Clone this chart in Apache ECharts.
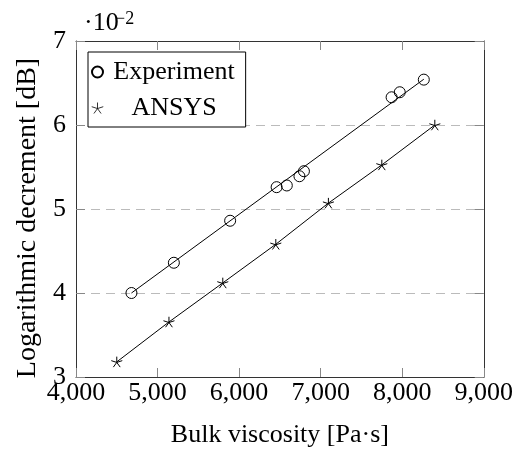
<!DOCTYPE html>
<html>
<head>
<meta charset="utf-8">
<script src="https://cdn.jsdelivr.net/npm/echarts@6/dist/echarts.min.js"></script>
<style>
  html, body { margin: 0; padding: 0; background: #fff; }
  #chart { width: 516px; height: 455px; }
</style>
</head>
<body>
<div id="chart"></div>
<script>
// measured points (values x 10^-2)
var expX = [4680, 5200, 5890, 6460, 6585, 6740, 6795, 7870, 7970, 8265];
var expY = [4.00, 4.36, 4.86, 5.26, 5.28, 5.39, 5.45, 6.33, 6.39, 6.54];
// linear fit through experiment
var fitX = [4680, 8265];
var fitY = [4.00, 6.545];
// simulation
var ansX = [4500, 5140, 5800, 6450, 7095, 7750, 8400];
var ansY = [3.18, 3.655, 4.12, 4.58, 5.07, 5.525, 6.00];

var xTicks = [4000, 5000, 6000, 7000, 8000, 9000];
var yTicks = [3, 4, 5, 6, 7];

function pairs(xs, ys) {
  return xs.map(function (x, i) { return [x, ys[i]]; });
}

var FONT = 'Liberation Serif';
var starPath = 'path://M100 100L100 0M100 100L195 69M100 100L159 181M100 100L41 181M100 100L5 69';

var chart = echarts.init(document.getElementById('chart'));

var baseX = {
  type: 'value',
  min: xTicks[0],
  max: xTicks[xTicks.length - 1],
  interval: 1000,
  axisLine: { show: true, onZero: false, lineStyle: { color: '#333', width: 1 } },
  axisTick: { show: true, inside: true, length: 9, lineStyle: { color: '#888' } },
  splitLine: { show: false }
};
var baseY = {
  type: 'value',
  min: yTicks[0],
  max: yTicks[yTicks.length - 1],
  interval: 1,
  axisLine: { show: true, onZero: false, lineStyle: { color: '#333', width: 1 } },
  axisTick: { show: true, inside: true, length: 9, lineStyle: { color: '#888' } },
  splitLine: { show: false }
};

var option = {
  animation: false,
  backgroundColor: '#fff',
  textStyle: { fontFamily: FONT },
  grid: { left: 76, right: 30, top: 41, bottom: 78 },
  xAxis: [
    Object.assign({}, baseX, {
      position: 'bottom',
      name: 'Bulk viscosity [Pa·s]',
      nameLocation: 'middle',
      nameGap: 45,
      nameTextStyle: { fontFamily: FONT, fontSize: 26, color: '#000' },
      axisLabel: {
        margin: 3, fontFamily: FONT, fontSize: 26, color: '#000',
        formatter: function (v) { return v.toLocaleString('en-US'); }
      }
    }),
    Object.assign({}, baseX, { position: 'top', axisLabel: { show: false } })
  ],
  yAxis: [
    Object.assign({}, baseY, {
      position: 'left',
      name: 'Logarithmic decrement [dB]',
      nameLocation: 'middle',
      nameRotate: 90,
      nameGap: 16,
      nameTextStyle: { fontFamily: FONT, fontSize: 28, color: '#000', padding: [0, 18, 0, 0] },
      axisLabel: { margin: 10, fontFamily: FONT, fontSize: 26, color: '#000' },
      splitLine: { show: true, lineStyle: { color: '#bbb', type: [9, 6], width: 1 } }
    }),
    Object.assign({}, baseY, { position: 'right', axisLabel: { show: false } })
  ],
  legend: {
    orient: 'vertical',
    left: 88,
    top: 52,
    padding: [7, 11, 6, 3],
    itemGap: 10,
    itemWidth: 13,
    itemHeight: 11,
    backgroundColor: '#fff',
    borderColor: '#000',
    borderWidth: 1,
    borderRadius: 0,
    data: [
      { name: 'Experiment' },
      { name: 'ANSYS', itemStyle: { color: 'rgba(0,0,0,0)', borderColor: '#000', borderWidth: 0.8 } }
    ],
    formatter: function (name) { return '{t|' + name + '}'; },
    textStyle: {
      fontFamily: FONT, fontSize: 26, color: '#000',
      rich: { t: { fontFamily: FONT, fontSize: 26, width: 130, align: 'center' } }
    }
  },
  graphic: [
    { type: 'text', left: 84, top: 10, style: { text: '·10', font: '26px "Liberation Serif"', fill: '#000' } },
    { type: 'text', left: 115, top: 10, style: { text: '−2', font: '18px "Liberation Serif"', fill: '#000' } }
  ],
  series: [
    {
      name: 'fit',
      type: 'line',
      data: pairs(fitX, fitY),
      showSymbol: false,
      symbol: 'none',
      lineStyle: { color: '#000', width: 1 },
      z: 2
    },
    {
      name: 'Experiment',
      type: 'scatter',
      data: pairs(expX, expY),
      symbol: 'circle',
      symbolSize: 11,
      itemStyle: { color: 'rgba(0,0,0,0)', borderColor: '#000', borderWidth: 1, opacity: 1 },
      z: 3
    },
    {
      name: 'ansysLine',
      type: 'line',
      data: pairs(ansX, ansY),
      symbol: 'none',
      lineStyle: { color: '#000', width: 1 },
      z: 2
    },
    {
      name: 'ANSYS',
      type: 'scatter',
      data: pairs(ansX, ansY),
      symbol: starPath,
      symbolSize: 11,
      symbolKeepAspect: true,
      itemStyle: { color: 'rgba(0,0,0,0)', borderColor: '#000', borderWidth: 1, opacity: 1 },
      z: 3
    }
  ]
};

chart.setOption(option);
</script>
</body>
</html>
